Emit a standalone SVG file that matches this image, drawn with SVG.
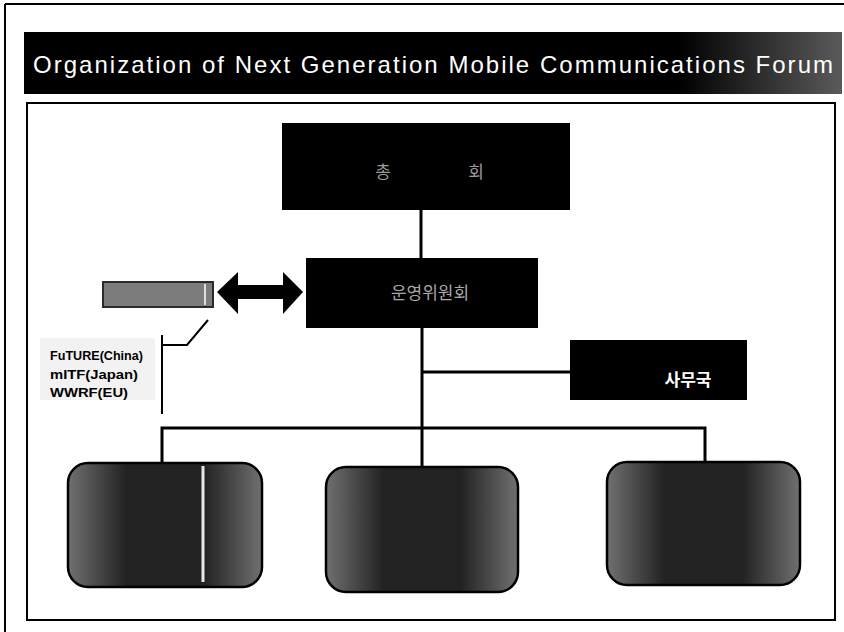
<svg xmlns="http://www.w3.org/2000/svg" width="844" height="632" viewBox="0 0 844 632">
<defs>
<style>
.box{fill:#000;}
.ln{stroke:#000;stroke-width:3;fill:none;}
.kr{font-family:"Noto Sans CJK KR","Noto Sans",sans-serif;text-anchor:middle;}
.rb{stroke:#000;stroke-width:2.5;fill:url(#speck);}
.lbl{font-family:"Liberation Sans",Arial,sans-serif;font-weight:bold;font-size:12px;fill:#000;}
</style>
<linearGradient id="speck" x1="0" y1="0" x2="1" y2="0">
<stop offset="0" stop-color="#707070"/>
<stop offset="0.3" stop-color="#222"/>
<stop offset="0.7" stop-color="#222"/>
<stop offset="1" stop-color="#707070"/>
</linearGradient>
<linearGradient id="titlebg" x1="0" y1="0" x2="1" y2="0">
<stop offset="0" stop-color="#000"/>
<stop offset="0.8" stop-color="#000"/>
<stop offset="1" stop-color="#5a5a5a"/>
</linearGradient>
</defs>
<rect width="844" height="632" fill="#fff"/>
<line x1="5" y1="4" x2="844" y2="4" stroke="#000" stroke-width="2"/>
<line x1="5" y1="4" x2="5" y2="632" stroke="#000" stroke-width="2"/>
<g id="title">
<rect x="24" y="32" width="818" height="62" fill="url(#titlebg)"/>
<text x="33" y="73" font-family="'Liberation Sans',Arial,sans-serif" font-size="24" fill="#fff" textLength="800" lengthAdjust="spacing">Organization of Next Generation Mobile Communications Forum</text>
</g>
<rect x="27" y="103" width="808" height="517" fill="none" stroke="#000" stroke-width="2"/>
<g id="connectors">
<line class="ln" x1="421" y1="210" x2="421" y2="258"/>
<line class="ln" x1="422" y1="328" x2="422" y2="467"/>
<line class="ln" x1="422" y1="372" x2="570" y2="372"/>
<polyline class="ln" points="162,463 162,428 705,428 705,462"/>
<polyline points="208,320 187,345 162,345" fill="none" stroke="#000" stroke-width="2"/>
<line x1="162" y1="335" x2="162" y2="414" stroke="#000" stroke-width="2"/>
<polygon points="217,292 238,272 238,285 283,285 283,272 303,292 283,314 283,299 238,299 238,314" fill="#000"/>
</g>
<g id="general-assembly">
<rect class="box" x="282" y="123" width="288" height="87"/>
<text class="kr" x="383" y="178" font-size="17" fill="#9a9a9a">총</text>
<text class="kr" x="476" y="178" font-size="17" fill="#9a9a9a">회</text>
</g>
<g id="steering-committee">
<rect class="box" x="306" y="258" width="232" height="70"/>
<text class="kr" x="430" y="299" font-size="17" fill="#a8a8a8">운영위원회</text>
</g>
<g id="partner-box">
<rect x="103" y="282" width="110" height="25" fill="#7c7c7c" stroke="#2a2a2a" stroke-width="2"/>
<line x1="205" y1="284" x2="205" y2="305" stroke="#ddd" stroke-width="2"/>
</g>
<g id="partners">
<rect x="40" y="338" width="115" height="62" fill="#f2f2f2"/>
<text class="lbl" x="50" y="360" textLength="93" lengthAdjust="spacingAndGlyphs">FuTURE(China)</text>
<text class="lbl" x="50" y="379" textLength="88" lengthAdjust="spacingAndGlyphs">mITF(Japan)</text>
<text class="lbl" x="50" y="397" textLength="78" lengthAdjust="spacingAndGlyphs">WWRF(EU)</text>
</g>
<g id="secretariat">
<rect class="box" x="570" y="340" width="177" height="60"/>
<text class="kr" x="688" y="386" font-size="17" font-weight="bold" fill="#fff">사무국</text>
</g>
<g id="group-1">
<rect class="rb" x="68" y="463" width="194" height="124" rx="20"/>
<line x1="203" y1="466" x2="203" y2="582" stroke="#e8e8e8" stroke-width="3"/>
</g>
<g id="group-2">
<rect class="rb" x="326" y="467" width="192" height="125" rx="20"/>
</g>
<g id="group-3">
<rect class="rb" x="607" y="462" width="193" height="123" rx="20"/>
</g>
</svg>
